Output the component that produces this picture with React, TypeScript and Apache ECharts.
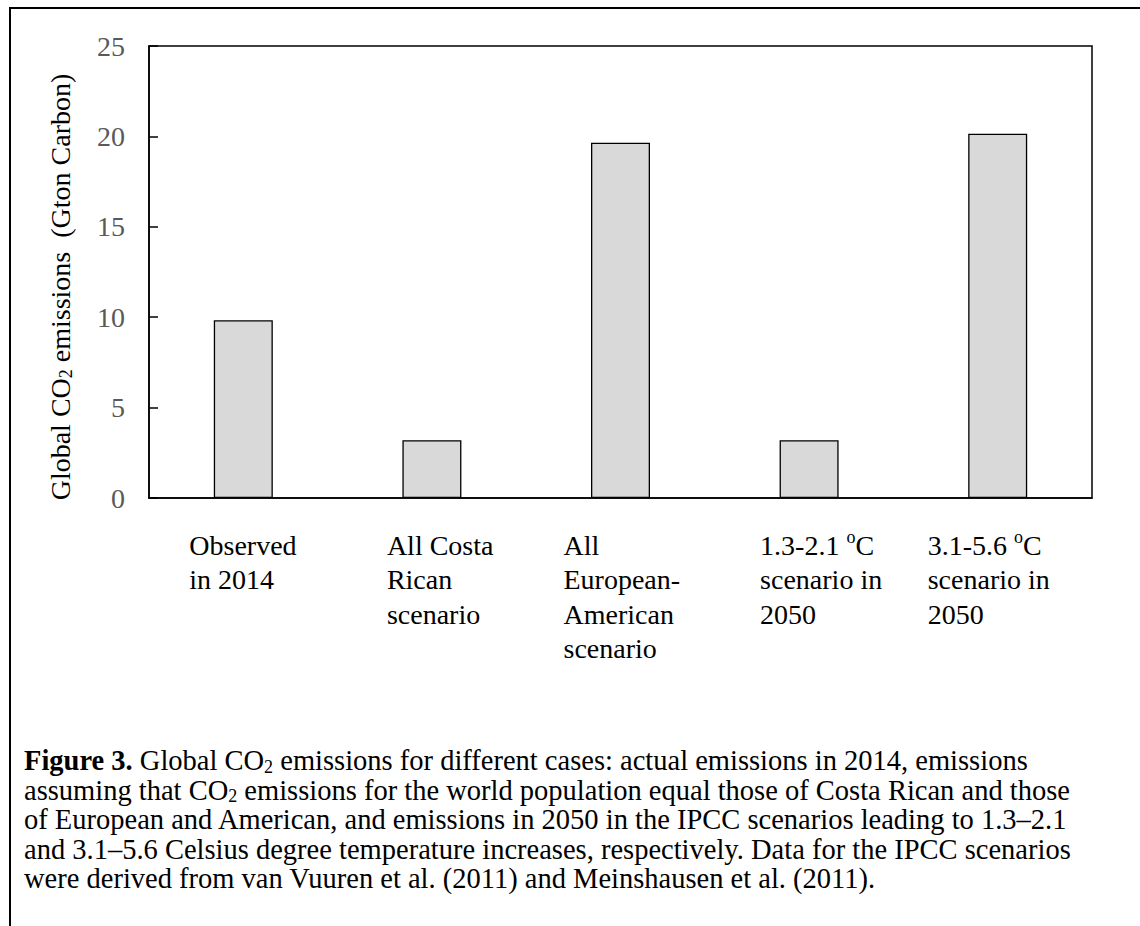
import React, { useEffect, useRef } from 'react';
import * as echarts from 'echarts';

const categories = [
  'Observed\nin 2014',
  'All Costa\nRican\nscenario',
  'All\nEuropean-\nAmerican\nscenario',
  '1.3-2.1 °C\nscenario in\n2050',
  '3.1-5.6 °C\nscenario in\n2050',
];
const emissions = [9.83, 3.2, 19.65, 3.2, 20.15];
const yTicks = [0, 5, 10, 15, 20, 25];
const yAxisTitle = 'Global CO{sub|2} emissions  (Gton Carbon)';
const captionLines = [
  '{b|Figure 3.} Global CO{sub|2} emissions for different cases: actual emissions in 2014, emissions',
  'assuming that CO{sub|2} emissions for the world population equal those of Costa Rican and those',
  'of European and American, and emissions in 2050 in the IPCC scenarios leading to 1.3–2.1',
  'and 3.1–5.6 Celsius degree temperature increases, respectively. Data for the IPCC scenarios',
  'were derived from van Vuuren et al. (2011) and Meinshausen et al. (2011).',
];
// layout: how far each category label block starts left of its tick centre
const labelShift = [54, 45, 57, 49, 70];

const FONT = '"Liberation Serif", "Times New Roman", serif';
const LABEL_BOX = 160;

function fmtCategory(v: string, index: number) {
  return v
    .split('\n')
    .map((line) => {
      const parts = line.split('°');
      const sp = '{s' + index + '| }';
      if (parts.length === 2) {
        return sp + '{a|' + parts[0] + '}{sup|o}{a|' + parts[1] + '}';
      }
      return sp + '{a|' + line + '}';
    })
    .join('\n');
}

export default function App() {
  const ref = useRef<HTMLDivElement>(null);
  useEffect(() => {
    document.body.style.margin = '0';
    const chart = echarts.init(ref.current!, null, { renderer: 'svg' });
    const labelRich: Record<string, any> = {
      a: { align: 'left', fontFamily: FONT, fontSize: 28, color: '#000000', lineHeight: 34.5 },
      sup: {
        align: 'left',
        fontFamily: FONT,
        fontSize: 18,
        color: '#000000',
        lineHeight: 20,
        verticalAlign: 'top',
      },
    };
    labelShift.forEach((s, i) => {
      labelRich['s' + i] = {
        align: 'left',
        width: LABEL_BOX / 2 - s,
        fontFamily: FONT,
        fontSize: 28,
        lineHeight: 34.5,
        color: '#000000',
      };
    });
    chart.setOption({
      animation: false,
      backgroundColor: '#ffffff',
      grid: {
        left: 149,
        top: 46,
        right: 48,
        bottom: 428,
        show: true,
        borderColor: '#000000',
        borderWidth: 1.5,
        containLabel: false,
      },
      xAxis: {
        type: 'category',
        data: categories,
        axisLine: { show: true, lineStyle: { color: '#000000', width: 1.5 } },
        axisTick: { show: false },
        splitLine: { show: false },
        axisLabel: {
          interval: 0,
          margin: 30,
          align: 'center',
          width: LABEL_BOX,
          overflow: 'none',
          formatter: fmtCategory,
          rich: labelRich,
        },
      },
      yAxis: {
        type: 'value',
        min: yTicks[0],
        max: yTicks[yTicks.length - 1],
        interval: yTicks[1] - yTicks[0],
        axisLine: { show: true, lineStyle: { color: '#000000', width: 1.5 } },
        axisTick: { show: true, inside: true, length: 9, lineStyle: { color: '#000000', width: 1.5 } },
        splitLine: { show: false },
        axisLabel: { color: '#595959', fontFamily: FONT, fontSize: 28, margin: 24 },
        name: yAxisTitle,
        nameLocation: 'middle',
        nameGap: 74,
        nameTextStyle: {
          fontFamily: FONT,
          fontSize: 28,
          color: '#000000',
          lineHeight: 30,
          padding: [0, 30, 0, 0],
          rich: {
            sub: {
              fontFamily: FONT,
              fontSize: 18,
              color: '#000000',
              lineHeight: 18,
              verticalAlign: 'bottom',
            },
          },
        },
      },
      series: [
        {
          type: 'bar',
          data: emissions,
          barWidth: 59,
          itemStyle: { color: '#d9d9d9', borderColor: '#000000', borderWidth: 1.3 },
        },
      ],
      graphic: [
        {
          type: 'rect',
          shape: { x: 10, y: 8, width: 1140, height: 930 },
          style: { fill: 'none', stroke: '#000000', lineWidth: 2 },
          silent: true,
        },
        {
          type: 'text',
          x: 24,
          y: 746,
          style: {
            text: captionLines.join('\n'),
            fontFamily: FONT,
            fontSize: 28.5,
            lineHeight: 29.5,
            fill: '#000000',
            rich: {
              b: { fontFamily: FONT, fontSize: 28.5, fontWeight: 'bold', lineHeight: 29.5, fill: '#000000' },
              sub: {
                fontFamily: FONT,
                fontSize: 18,
                lineHeight: 18,
                verticalAlign: 'bottom',
                fill: '#000000',
              },
            },
          },
        },
      ],
    });
    return () => chart.dispose();
  }, []);
  return <div ref={ref} style={{ width: 1140, height: 926 }} />;
}
